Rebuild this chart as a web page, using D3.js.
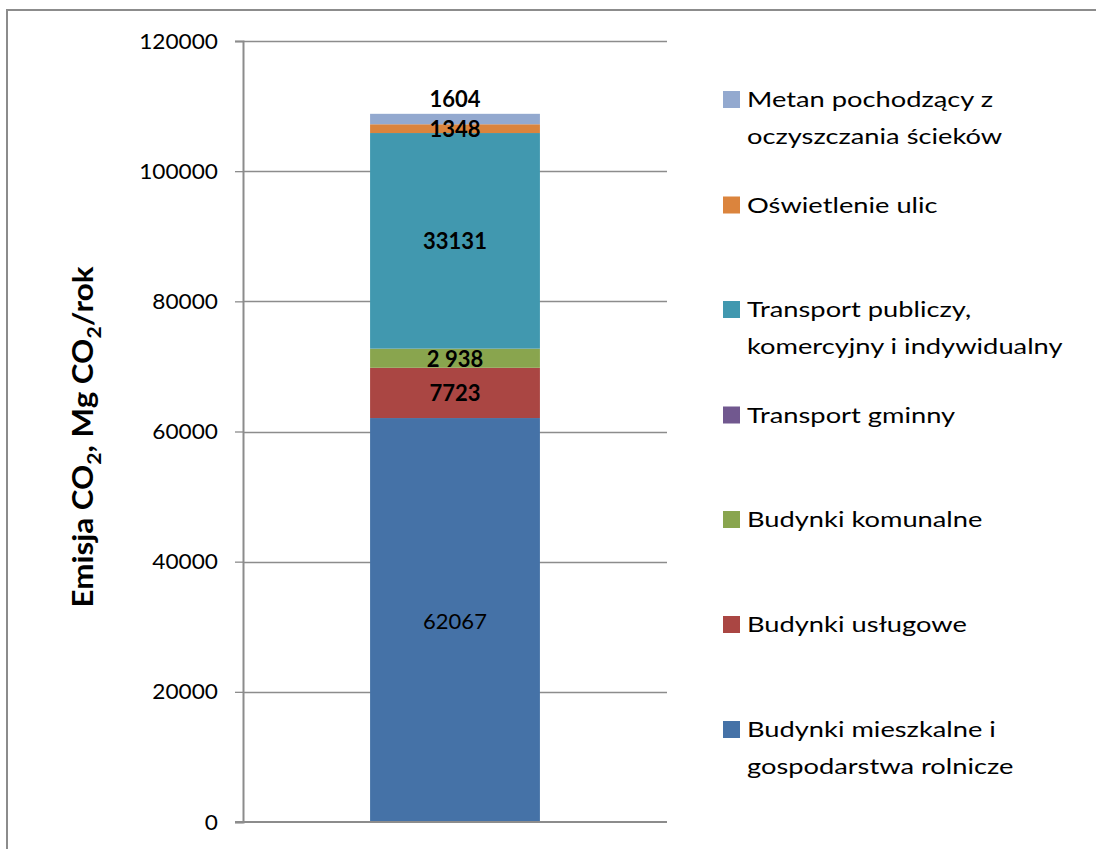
<!DOCTYPE html>
<html>
<head>
<meta charset="utf-8">
<script src="https://cdn.jsdelivr.net/npm/d3@7"></script>
<style>
  html, body { margin: 0; padding: 0; background: #fff; }
  svg { display: block; font-family: Lato, "Liberation Sans", sans-serif; }
</style>
</head>
<body>
<svg id="chart" width="1096" height="849"></svg>
<script>
// ---- data ----
const categories = [""];
const seriesNames = [
  "Budynki mieszkalne i gospodarstwa rolnicze",
  "Budynki usługowe",
  "Budynki komunalne",
  "Transport gminny",
  "Transport publiczy, komercyjny i indywidualny",
  "Oświetlenie ulic",
  "Metan pochodzący z oczyszczania ścieków"
];
const seriesValues = [62067, 7723, 2938, 0, 33131, 1348, 1604];
const valueLabels = ["62067", "7723", "2 938", "", "33131", "1348", "1604"];
const legendLines = [
  ["Budynki mieszkalne i", "gospodarstwa rolnicze"],
  ["Budynki usługowe"],
  ["Budynki komunalne"],
  ["Transport gminny"],
  ["Transport publiczy,", "komercyjny i indywidualny"],
  ["Oświetlenie ulic"],
  ["Metan pochodzący z", "oczyszczania ścieków"]
];
const tickValues = [0, 20000, 40000, 60000, 80000, 100000, 120000];
const colors = ["#4572A7", "#AA4643", "#89A54E", "#71588F", "#4198AF", "#DB843D", "#93A9CF"];

// ---- chart ----
const svg = d3.select("#chart");
const axisX = 243, plotRight = 667;
const y = d3.scaleLinear().domain([0, 120000]).range([822, 41]);
const x = d3.scaleBand().domain(categories).range([axisX, plotRight]).paddingInner(0.428).paddingOuter(0.428);

// outer border
svg.append("rect").attr("x", 7).attr("y", 10).attr("width", 1200).attr("height", 1000)
  .attr("fill", "none").attr("stroke", "#8c8c8c").attr("stroke-width", 2);

// gridlines
svg.append("g").selectAll("line").data(tickValues.filter(d => d > 0)).join("line")
  .attr("x1", axisX).attr("x2", plotRight)
  .attr("y1", d => Math.round(y(d)) + 0.5).attr("y2", d => Math.round(y(d)) + 0.5)
  .attr("stroke", "#8c8c8c").attr("stroke-width", 1.3);

// stacked data
const row = {}; seriesNames.forEach((n, i) => row[n] = seriesValues[i]);
const stacked = d3.stack().keys(seriesNames)([row]);

svg.append("g").selectAll("rect").data(stacked).join("rect")
  .attr("x", x(""))
  .attr("width", x.bandwidth())
  .attr("y", d => y(d[0][1]))
  .attr("height", d => y(d[0][0]) - y(d[0][1]))
  .attr("fill", (d, i) => colors[i]);

// y axis
const yAxis = d3.axisLeft(y).tickValues(tickValues).tickFormat(d3.format("d")).tickSize(8).tickPadding(0);
const ga = svg.append("g").attr("transform", `translate(${axisX},0)`).call(yAxis);
ga.select(".domain").attr("stroke", "#8c8c8c").attr("stroke-width", 2);
ga.selectAll(".tick line").attr("stroke", "#8c8c8c").attr("stroke-width", 1.3);
ga.selectAll(".tick text").attr("x", 0).attr("transform", `translate(-25,0) scale(1.03,1)`)
  .attr("font-size", 22).attr("fill", "#000")
  .attr("font-family", "Lato, sans-serif");

// x axis baseline
svg.append("line").attr("x1", axisX - 8).attr("x2", plotRight)
  .attr("y1", y(0)).attr("y2", y(0)).attr("stroke", "#8c8c8c").attr("stroke-width", 2);

// data labels
const cx = x("") + x.bandwidth() / 2;
svg.append("g").selectAll("text").data(stacked).join("text")
  .attr("transform", (d, i) => {
    const mid = (y(d[0][0]) + y(d[0][1])) / 2;
    const ty = i === stacked.length - 1 ? y(d[0][1]) - 15 : mid;
    return `translate(${cx},${ty})`;
  })
  .attr("text-anchor", "middle").attr("dominant-baseline", "central")
  .attr("font-size", 22)
  .attr("font-weight", (d, i) => i === 0 ? "normal" : "bold")
  .attr("fill", "#000")
  .text((d, i) => valueLabels[i]);

// y title
svg.append("text")
  .attr("transform", `translate(82,437) rotate(-90) scale(1.12,1)`)
  .attr("text-anchor", "middle").attr("dominant-baseline", "central")
  .attr("font-size", 28).attr("font-weight", "bold")
  .html('Emisja CO<tspan baseline-shift="sub" font-size="19">2</tspan>, Mg CO<tspan baseline-shift="sub" font-size="19">2</tspan>/rok');

// legend
const legendCenters = [729, 624, 519, 414.5, 309, 204.5, 99];
const lg = svg.append("g").selectAll("g").data(seriesNames).join("g")
  .attr("transform", (d, i) => `translate(723,${legendCenters[i]})`);
lg.append("rect").attr("x", 0).attr("y", -8).attr("width", 17).attr("height", 17)
  .attr("fill", (d, i) => colors[i]);
lg.each(function(d, i) {
  const t = d3.select(this).append("text")
    .attr("transform", `translate(24,8) scale(1.24,1)`)
    .attr("font-size", 22).attr("fill", "#000");
  legendLines[i].forEach((ln, j) => {
    t.append("tspan").attr("x", 0).attr("dy", j === 0 ? 0 : 37).text(ln);
  });
});
</script>
</body>
</html>
